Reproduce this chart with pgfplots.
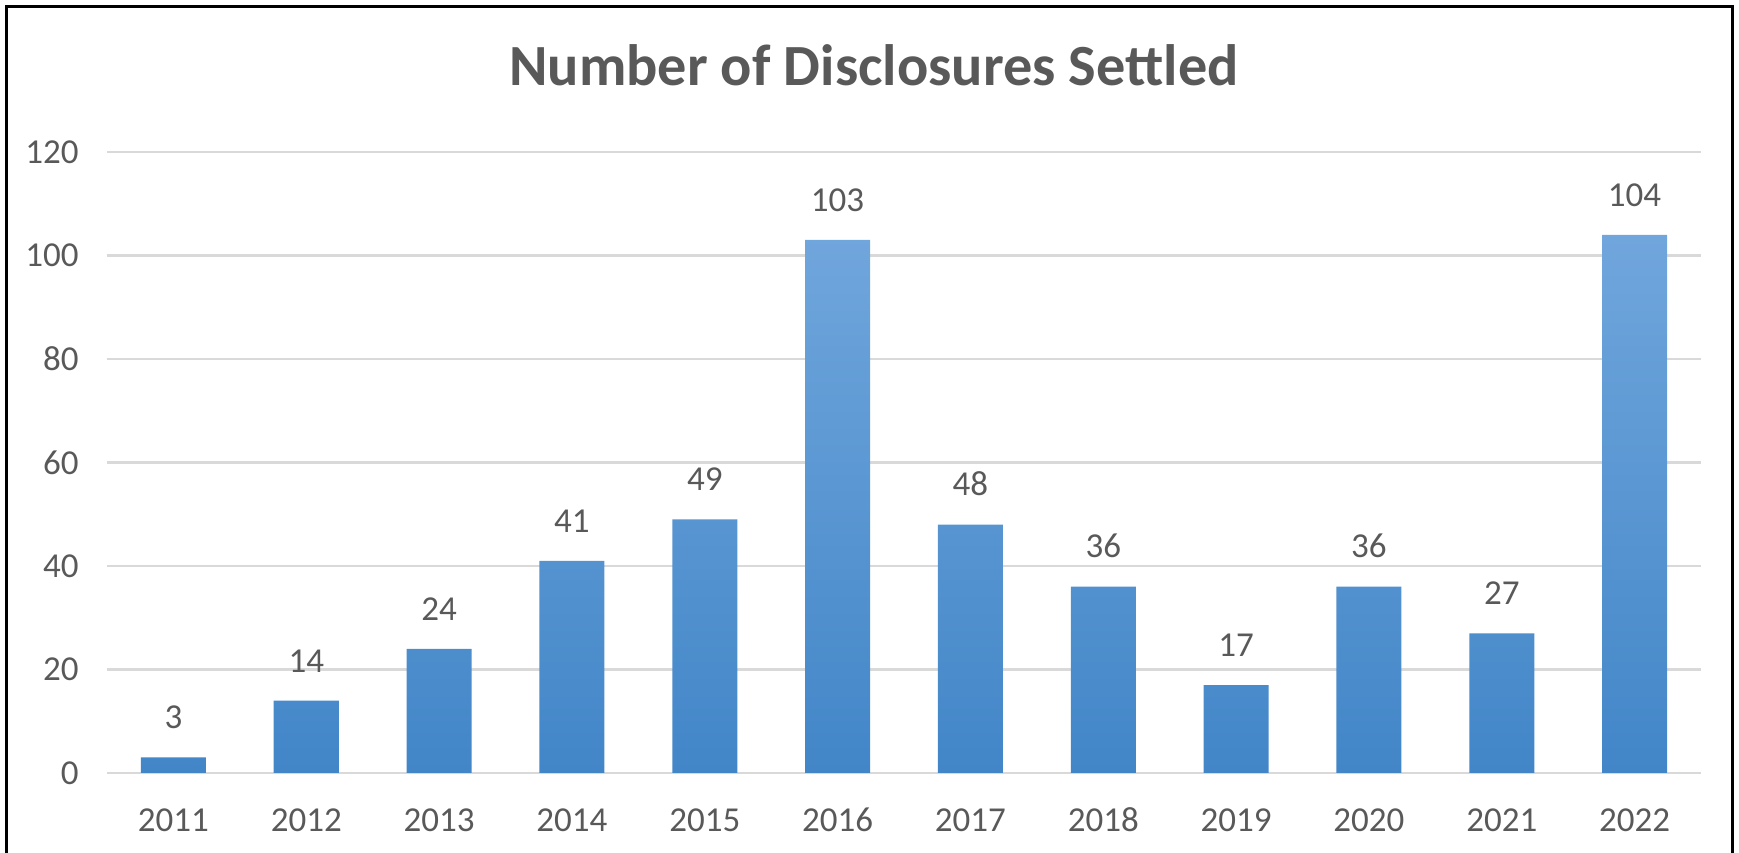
\documentclass[border=0pt]{standalone}
\usepackage{fontspec}
\setmainfont{Carlito}
\usepackage{pgfplots}
\pgfplotsset{compat=1.18}
\definecolor{txt}{HTML}{595959}
\definecolor{gridc}{HTML}{D9D9D9}
\definecolor{bartop}{RGB}{112,166,220}
\definecolor{barbot}{RGB}{66,134,200}
\begin{document}
\begin{tikzpicture}
\useasboundingbox (-32.1pt,-24pt) rectangle (489.6pt,231.9pt);
\begin{axis}[
  at={(0,0)}, anchor=south west,
  scale only axis,
  width=478.2pt, height=186.3pt,
  xmin=-0.5, xmax=11.5,
  ymin=0, ymax=120,
  ytick={0,20,...,120},
  xtick={0,...,11},
  xticklabels={2011,2012,2013,2014,2015,2016,2017,2018,2019,2020,2021,2022},
  axis line style={draw=none},
  major tick length=0pt,
  xmajorgrids=false, ymajorgrids=true,
  major grid style={draw=gridc, line width=0.8pt},
  /pgf/number format/assume math mode=true,
  tick label style={font=\fontsize{10.5}{12}\selectfont, text=txt},
  yticklabel style={xshift=-5pt},
  xticklabel style={yshift=-7pt, text height=7pt, text depth=0pt},
  ybar, bar width=19.5pt,
  nodes near coords,
  every node near coord/.append style={font=\fontsize{10.5}{12}\selectfont, text=txt, yshift=5pt},
  clip=false,
]
\addplot[draw=none, top color=bartop, bottom color=barbot] coordinates {
(0,3) (1,14) (2,24) (3,41) (4,49) (5,103) (6,48) (7,36) (8,17) (9,36) (10,27) (11,104)};
\end{axis}
\node[anchor=base, text=txt, font=\fontsize{17.5}{20}\selectfont\bfseries] at (230.1pt,206.1pt) {Number of Disclosures Settled};
\draw[line width=0.9pt, black] (-30pt,-24pt) -- (-30pt,229.8pt) -- (487.5pt,229.8pt) -- (487.5pt,-24pt);
\end{tikzpicture}
\end{document}
